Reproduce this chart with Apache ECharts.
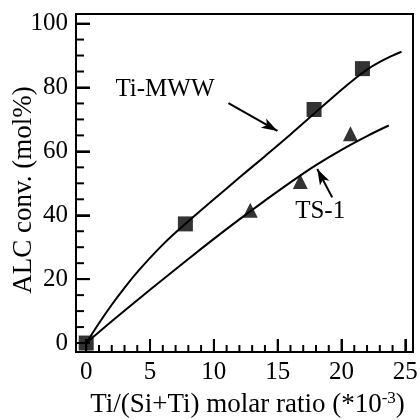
<!DOCTYPE html>
<html>
<head>
<meta charset="utf-8">
<script src="https://cdn.jsdelivr.net/npm/echarts@6/dist/echarts.min.js"></script>
<style>
  html, body { margin: 0; padding: 0; background: #fff; }
  #chart { width: 420px; height: 420px; }
</style>
</head>
<body>
<div id="chart"></div>
<script>
// Measured conversions (symbols)
const tiMwwPoints = [[0, 0], [7.77, 37.3], [17.85, 73.1], [21.64, 85.9]];
const ts1Points = [[12.85, 41.6], [16.77, 50.6], [20.7, 65.5]];

// Fitted trend curves
const tiMwwCurve = [[0, 0], [1, 6.2], [2, 12], [3, 17.3], [4, 22.2], [6, 30.8], [8, 38.1],
  [10, 45], [12, 51.8], [14, 58.5], [16, 65.3], [18, 72.3], [20, 79.3], [21, 82.6],
  [22, 85.6], [23, 88], [24, 90], [24.7, 91.2]];
const ts1Curve = [[0, 0], [2, 6.8], [4, 13.4], [6, 19.9], [8, 26.3], [10, 32.6], [12, 38.7],
  [14, 44.6], [16, 50.3], [18, 55.7], [20, 60.5], [22, 64.8], [23.7, 68.1]];

// Axis ticks
const xMajorTicks = [0, 5, 10, 15, 20, 25];
const xMinorTicks = [1, 2, 3, 4, 6, 7, 8, 9, 11, 12, 13, 14, 16, 17, 18, 19, 21, 22, 23, 24];
const yMajorTicks = [0, 20, 40, 60, 80, 100];
const yMinorTicks = [5, 10, 15, 25, 30, 35, 45, 50, 55, 65, 70, 75, 85, 90, 95];

// Axis titles
const xTitle = 'Ti/(Si+Ti) molar ratio (*10{sup|-3})';
const yTitle = 'ALC conv. (mol%)';

// Annotation labels and leader arrows
const labelTexts = ['Ti-MWW', 'TS-1'];
const labelCoords = [[6.17, 79.5], [18.33, 41.2]];
const arrowLines = [
  [[11.14, 75.1], [14.98, 66.4]],
  [[19.27, 45.6], [18.1, 54.5]]
];

const FONT = '"Liberation Serif", "Times New Roman", serif';
const xRange = [-0.8, 25.6];
const yRange = [-2.8, 103];

const chart = echarts.init(document.getElementById('chart'));

// Inward tick marks along the bottom (dir 'x') or left (dir 'y') edge,
// placed through the axis scales.
function tickSeries(values, dir, len) {
  return {
    type: 'custom', silent: true, z: 5, clip: false,
    data: values.map(v => dir === 'x' ? [v, yRange[0]] : [xRange[0], v]),
    renderItem: function (params, api) {
      const p = api.coord([api.value(0), api.value(1)]);
      const shape = dir === 'x'
        ? { x1: p[0], y1: p[1], x2: p[0], y2: p[1] - len }
        : { x1: p[0], y1: p[1], x2: p[0] + len, y2: p[1] };
      return { type: 'line', shape: shape, style: { stroke: '#000', lineWidth: 2 } };
    }
  };
}

const option = {
  animation: false,
  grid: {
    left: 76, top: 14, right: 7, bottom: 68,
    outerBoundsMode: 'none',
    show: true, borderColor: '#000', borderWidth: 2
  },
  graphic: [{
    type: 'text', x: 24, y: 190, rotation: Math.PI / 2,
    style: { text: yTitle, font: '27px ' + FONT, fill: '#000', align: 'center', verticalAlign: 'middle' }
  }],
  xAxis: {
    type: 'value', min: xRange[0], max: xRange[1],
    splitLine: { show: false },
    axisLine: { show: true, onZero: false, lineStyle: { color: '#000', width: 2 } },
    axisTick: { show: true, inside: true, length: 13, customValues: xMajorTicks, lineStyle: { color: '#000', width: 2 } },
    name: xTitle,
    nameLocation: 'middle', nameGap: 37,
    nameTextStyle: {
      fontFamily: FONT, fontSize: 27, color: '#000', padding: [0, 0, 0, 6],
      rich: { sup: { fontFamily: FONT, fontSize: 17, color: '#000', verticalAlign: 'top', padding: [0, 0, 14, 0] } }
    },
    axisLabel: { show: true, customValues: xMajorTicks, margin: 8, fontFamily: FONT, fontSize: 25, color: '#000' }
  },
  yAxis: {
    type: 'value', min: yRange[0], max: yRange[1],
    splitLine: { show: false },
    axisLine: { show: true, onZero: false, lineStyle: { color: '#000', width: 2 } },
    axisTick: { show: true, inside: true, length: 14, customValues: yMajorTicks, lineStyle: { color: '#000', width: 2 } },
    axisLabel: { show: true, customValues: yMajorTicks, margin: 8, fontFamily: FONT, fontSize: 25, color: '#000' }
  },
  series: [
    tickSeries(xMajorTicks, 'x', 13),
    tickSeries(xMinorTicks, 'x', 7),
    tickSeries(yMajorTicks, 'y', 14),
    tickSeries(yMinorTicks, 'y', 8),
    {
      name: 'Ti-MWW fit', type: 'line', data: tiMwwCurve, smooth: 0.4,
      showSymbol: false, symbol: 'none',
      lineStyle: { color: '#000', width: 2 },
      markLine: {
        silent: true, symbol: ['none', 'arrow'], symbolSize: [8, 16],
        lineStyle: { color: '#000', width: 2, type: 'solid' },
        label: { show: false },
        data: arrowLines.map(a => [{ coord: a[0] }, { coord: a[1] }])
      },
      markPoint: {
        silent: true, symbol: 'circle', symbolSize: 0,
        label: { show: true, position: 'inside', fontFamily: FONT, fontSize: 25, color: '#000', formatter: p => p.name },
        data: labelTexts.map((t, i) => ({ name: t, coord: labelCoords[i] }))
      }
    },
    {
      name: 'TS-1 fit', type: 'line', data: ts1Curve, smooth: 0.4,
      showSymbol: false, symbol: 'none',
      lineStyle: { color: '#000', width: 2 }
    },
    {
      name: 'Ti-MWW', type: 'scatter', data: tiMwwPoints,
      symbol: 'rect', symbolSize: 15,
      itemStyle: { color: '#000' }, z: 6
    },
    {
      name: 'TS-1', type: 'scatter', data: ts1Points,
      symbol: 'triangle', symbolSize: 15,
      itemStyle: { color: '#000' }, z: 6
    }
  ]
};

chart.setOption(option);
</script>
</body>
</html>
